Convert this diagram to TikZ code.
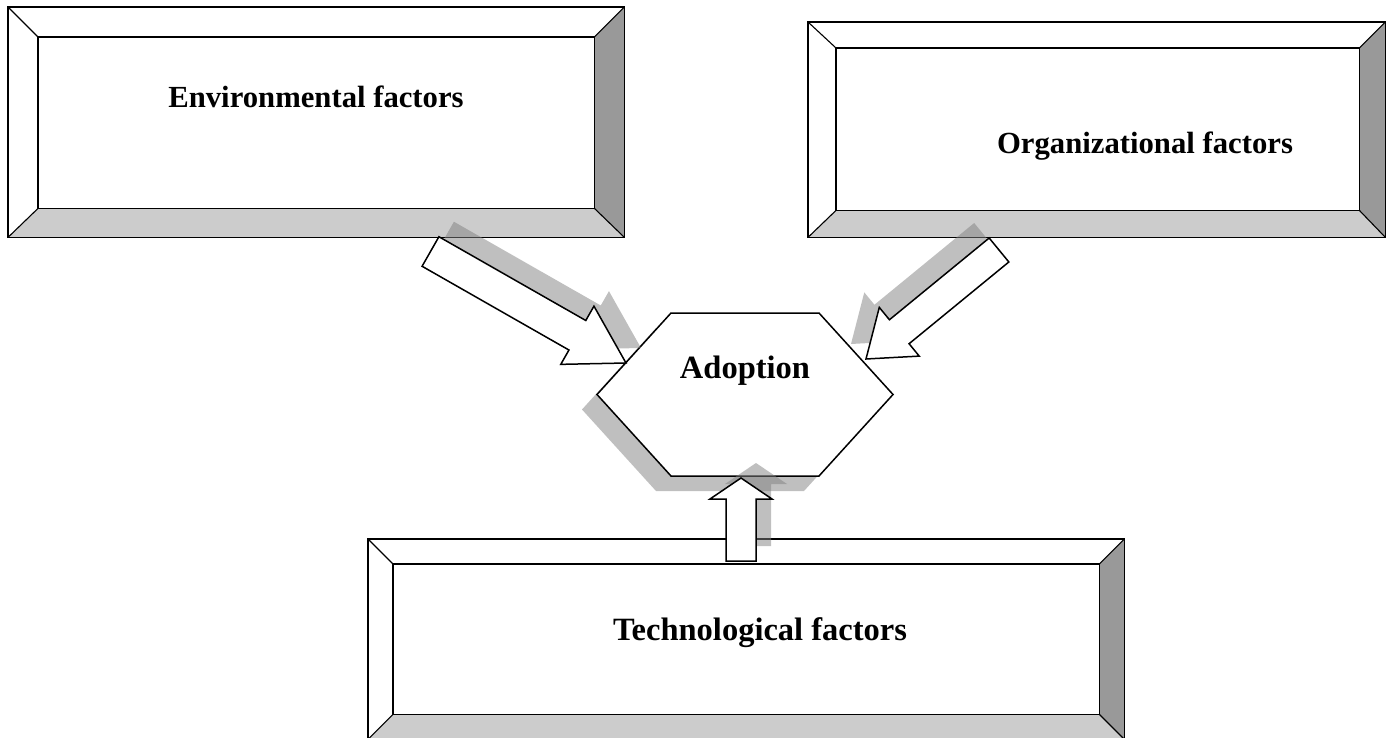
\documentclass[tikz,border=0pt]{standalone}
\usepackage{fontspec}
\setmainfont{Liberation Serif}
\usetikzlibrary{calc}

\definecolor{bevdark}{HTML}{999999}
\definecolor{bevlight}{HTML}{CCCCCC}

\tikzset{
  boxline/.style={draw=black, line width=1.6pt},
  cornerline/.style={draw=black, line width=1.1pt},
  label/.style={font=\fontsize{30.7}{36}\selectfont\bfseries, inner sep=0pt, anchor=base},
  biglabel/.style={label, font=\fontsize{32.5}{38}\selectfont\bfseries},
  shadowed/.style 2 args={preaction={draw=none, fill=black!50, fill opacity=0.5,
      transform canvas={shift={(#1,#2)}}}},
  blockstyle/.style={draw=black, fill=white, line width=1.5pt, line join=miter},
}

% Framed box with bevelled border: name, outer NW corner, size, bevel widths (l,t,r,b)
\newcommand\bevelbox[9]{%
  \node[draw=none, inner sep=0pt, anchor=north west,
        minimum width=#4pt, minimum height=#5pt] (#1) at (#2,#3) {};
  \coordinate (#1-i1) at ($(#1.north west)+(#6,#7)$);
  \coordinate (#1-i2) at ($(#1.north east)+(-#8,#7)$);
  \coordinate (#1-i3) at ($(#1.south east)+(-#8,-#9)$);
  \coordinate (#1-i4) at ($(#1.south west)+(#6,-#9)$);
  \fill[white] (#1.north west) rectangle (#1.south east);
  \fill[bevdark] (#1.north east) -- (#1.south east) -- (#1-i3) -- (#1-i2) -- cycle;
  \fill[bevlight] (#1.south east) -- (#1.south west) -- (#1-i4) -- (#1-i3) -- cycle;
  \draw[cornerline] (#1.north west) -- (#1-i1) (#1.north east) -- (#1-i2)
                    (#1.south east) -- (#1-i3) (#1.south west) -- (#1-i4);
  \draw[boxline] (#1.north west) rectangle (#1.south east);
  \draw[boxline] (#1-i1) rectangle (#1-i3);
}

% Block arrow from a tail point to a tip point:
% tail, tip, shaft half-width, head half-width, head length, options
\newcommand\blockarrow[6]{%
  \coordinate (#1-base) at ($(#2)!#5!(#1)$);
  \path[#6] ($(#1)!#3!90:(#2)$) -- ($(#1-base)!#3!90:(#2)$)
     -- ($(#1-base)!#4!90:(#2)$) -- (#2) -- ($(#1-base)!#4!-90:(#2)$)
     -- ($(#1-base)!#3!-90:(#2)$) -- ($(#1)!#3!-90:(#2)$) -- cycle;
}

\begin{document}
\begin{tikzpicture}[x=1pt, y=-1pt]
  \useasboundingbox (0,0) rectangle (1390,738);
  \fill[white] (0,0) rectangle (1390,738);

  % the three factor boxes
  \bevelbox{env}{8}{7}{616}{230}{30}{30}{30}{29}
  \bevelbox{org}{808}{22}{577}{215}{28}{26}{26}{27}
  \bevelbox{tech}{368}{539}{756}{200}{25}{25}{25}{25}

  \node[label] (envtext)  at (316,108) {Environmental factors};
  \node[label] (orgtext)  at (1145,154) {Organizational factors};
  \node[biglabel] (techtext) at (760,640) {Technological factors};

  % central hexagon
  \coordinate (hc) at (745,394.5);
  \path[blockstyle, shadowed={-15pt}{-15pt}]
    ($(hc)+(-148,0)$) -- ($(hc)+(-74,-81.5)$) -- ($(hc)+(74,-81.5)$)
    -- ($(hc)+(148,0)$) -- ($(hc)+(74,81.5)$) -- ($(hc)+(-74,81.5)$) -- cycle;
  \node[biglabel] (adopt) at (745,378) {Adoption};

  % arrows from the factors to the hexagon
  \coordinate (envtail)  at (430.5,251.5);
  \coordinate (envtip)   at (626,363);
  \coordinate (orgtail)  at (999,250);
  \coordinate (orgtip)   at (866,359);
  \coordinate (techtail) at (741,561);
  \coordinate (techtip)  at (741,478);

  \blockarrow{envtail}{envtip}{17pt}{33.5pt}{56pt}{blockstyle, shadowed={15pt}{15pt}}
  \blockarrow{orgtail}{orgtip}{15.5pt}{31.5pt}{43pt}{blockstyle, shadowed={-15pt}{15pt}}
  \blockarrow{techtail}{techtip}{15pt}{31pt}{21pt}{blockstyle, shadowed={15pt}{15pt}}
\end{tikzpicture}
\end{document}
